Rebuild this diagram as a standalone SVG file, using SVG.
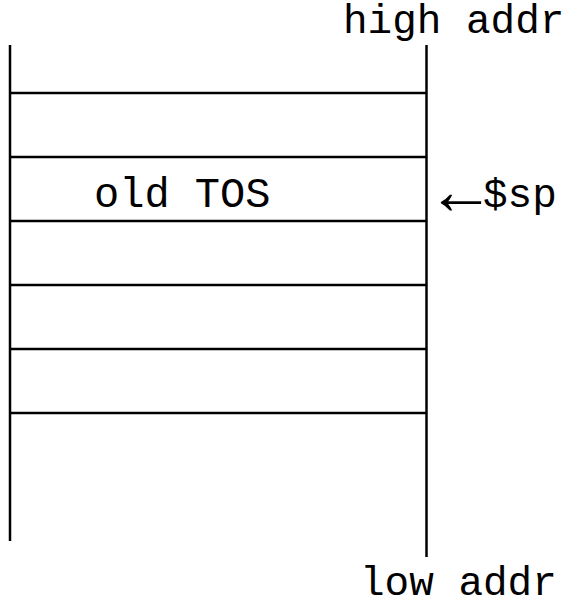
<svg xmlns="http://www.w3.org/2000/svg" width="577" height="606" viewBox="0 0 577 606">
  <style>
    .rule { stroke: #000; stroke-width: 2.5; fill: none; }
    .lbl { font-family: "Liberation Mono", "Courier New", monospace; font-size: 41px; fill: #000; }
    .arw { font-family: "Liberation Serif", "DejaVu Serif", serif; font-size: 68px; }
  </style>
  <rect width="577" height="606" fill="#fff"/>
  <g id="stack">
    <line class="rule" x1="10" y1="45" x2="10" y2="541"/>
    <line class="rule" x1="426.5" y1="45" x2="426.5" y2="557"/>
  </g>
  <g id="slots">
    <line class="rule" x1="10" y1="93" x2="426.5" y2="93"/>
    <line class="rule" x1="10" y1="157" x2="426.5" y2="157"/>
    <line class="rule" x1="10" y1="221" x2="426.5" y2="221"/>
    <line class="rule" x1="10" y1="285" x2="426.5" y2="285"/>
    <line class="rule" x1="10" y1="349" x2="426.5" y2="349"/>
    <line class="rule" x1="10" y1="413" x2="426.5" y2="413"/>
  </g>
  <g id="labels">
    <text class="lbl" x="343" y="33">high addr</text>
    <text class="lbl" x="94" y="207" style="font-size:42px">old TOS</text>
    <text class="lbl" x="427" y="207"><tspan class="arw" dy="7">←</tspan><tspan x="483" dy="-7">$sp</tspan></text>
    <text class="lbl" x="360" y="595">low addr</text>
  </g>
</svg>
